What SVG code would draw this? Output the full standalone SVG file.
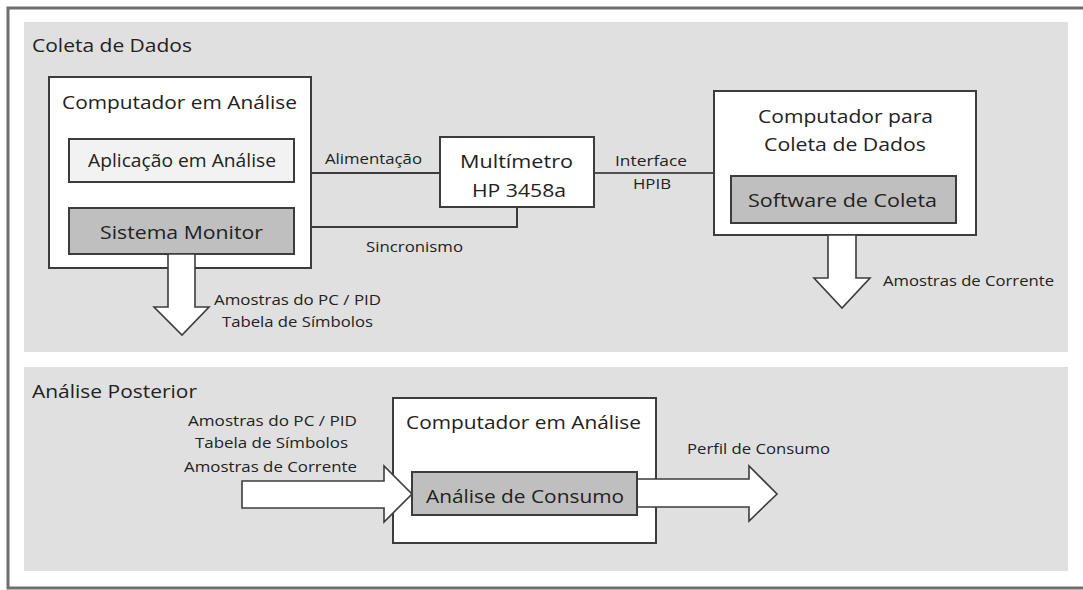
<svg xmlns="http://www.w3.org/2000/svg" width="1083" height="590" viewBox="0 0 1083 590">
  <style>
    .frame { fill: none; stroke: #6e6e6e; stroke-width: 3; }
    .panel { fill: #e0e0e0; }
    .box { fill: #ffffff; stroke: #3c3c3c; stroke-width: 2; }
    .light { fill: #f2f2f2; stroke: #3c3c3c; stroke-width: 2; }
    .dark { fill: #bfbfbf; stroke: #3c3c3c; stroke-width: 2; }
    .wire { fill: none; stroke: #3c3c3c; stroke-width: 2; }
    .thin { fill: none; stroke: #222222; stroke-width: 1.3; }
    .flow { fill: #ffffff; stroke: #3c3c3c; stroke-width: 1.6; stroke-linejoin: miter; }
    text { font-family: "Open Sans", "Noto Sans", "DejaVu Sans", sans-serif; fill: #222222; }
    .big { font-size: 18px; }
    .mid { font-size: 19px; }
    .small { font-size: 14px; }
  </style>

  <!-- outer frame: top, left and bottom edges -->
  <path class="frame" d="M1083,8 H8 V588 H1083"/>

  <!-- section panels -->
  <rect class="panel" x="24" y="22" width="1044" height="330"/>
  <rect class="panel" x="24" y="367" width="1044" height="204"/>
  <text class="big" x="32" y="52" textLength="160" lengthAdjust="spacingAndGlyphs">Coleta de Dados</text>
  <text class="big" x="32" y="398" textLength="165" lengthAdjust="spacingAndGlyphs">Análise Posterior</text>

  <!-- wiring between the machines -->
  <g id="connectors">
    <line class="wire" x1="311" y1="173" x2="440" y2="173"/>
    <polyline class="wire" points="311,227 517,227 517,207"/>
    <line class="thin" x1="594" y1="173" x2="714" y2="173"/>
    <text class="small" x="325" y="164" textLength="97" lengthAdjust="spacingAndGlyphs">Alimentação</text>
    <text class="small" x="366" y="252" textLength="97" lengthAdjust="spacingAndGlyphs">Sincronismo</text>
    <text class="small" x="615" y="166" textLength="72" lengthAdjust="spacingAndGlyphs">Interface</text>
    <text class="small" x="633" y="189" textLength="38" lengthAdjust="spacingAndGlyphs">HPIB</text>
  </g>

  <!-- machine under analysis (collection stage) -->
  <g id="computador-analise">
    <rect class="box" x="49" y="77" width="262" height="191"/>
    <text class="big" x="62" y="109" textLength="235" lengthAdjust="spacingAndGlyphs">Computador em Análise</text>
  </g>
  <g id="aplicacao">
    <rect class="light" x="69" y="139" width="225" height="43"/>
    <text class="big" x="88" y="167" textLength="188" lengthAdjust="spacingAndGlyphs">Aplicação em Análise</text>
  </g>
  <g id="sistema-monitor">
    <rect class="dark" x="69" y="208" width="225" height="46"/>
    <text class="big" x="100" y="239" textLength="163" lengthAdjust="spacingAndGlyphs">Sistema Monitor</text>
  </g>

  <!-- multimeter -->
  <g id="multimetro">
    <rect class="box" x="440" y="137" width="154" height="70"/>
    <text class="mid" x="460" y="168" textLength="113" lengthAdjust="spacingAndGlyphs">Multímetro</text>
    <text class="mid" x="472" y="197" textLength="94" lengthAdjust="spacingAndGlyphs">HP 3458a</text>
  </g>

  <!-- data collection machine -->
  <g id="computador-coleta">
    <rect class="box" x="714" y="91" width="262" height="144"/>
    <text class="big" x="758" y="123" textLength="175" lengthAdjust="spacingAndGlyphs">Computador para</text>
    <text class="big" x="764" y="151" textLength="162" lengthAdjust="spacingAndGlyphs">Coleta de Dados</text>
  </g>
  <g id="software-coleta">
    <rect class="dark" x="731" y="176" width="225" height="47"/>
    <text class="big" x="748" y="207" textLength="189" lengthAdjust="spacingAndGlyphs">Software de Coleta</text>
  </g>

  <!-- sample outputs of the collection stage -->
  <g id="saida-monitor">
    <polygon class="flow" points="168,254 195,254 195,307 209,307 182,335 154,307 168,307"/>
    <text class="small" x="214" y="305" textLength="167" lengthAdjust="spacingAndGlyphs">Amostras do PC / PID</text>
    <text class="small" x="222" y="327" textLength="151" lengthAdjust="spacingAndGlyphs">Tabela de Símbolos</text>
  </g>
  <g id="saida-coleta">
    <polygon class="flow" points="828,235 856,235 856,278 870,278 842,308 814,278 828,278"/>
    <text class="small" x="883" y="286" textLength="171" lengthAdjust="spacingAndGlyphs">Amostras de Corrente</text>
  </g>

  <!-- later analysis stage -->
  <g id="computador-posterior">
    <rect class="box" x="393" y="398" width="263" height="145"/>
    <text class="big" x="406" y="429" textLength="235" lengthAdjust="spacingAndGlyphs">Computador em Análise</text>
  </g>
  <g id="entrada-analise">
    <polygon class="flow" points="242,481 384,481 384,466 412,494 384,522 384,508 242,508"/>
    <text class="small" x="188" y="426" textLength="169" lengthAdjust="spacingAndGlyphs">Amostras do PC / PID</text>
    <text class="small" x="195" y="448" textLength="153" lengthAdjust="spacingAndGlyphs">Tabela de Símbolos</text>
    <text class="small" x="184" y="472" textLength="173" lengthAdjust="spacingAndGlyphs">Amostras de Corrente</text>
  </g>
  <g id="saida-perfil">
    <polygon class="flow" points="637,479 749,479 749,466 777,494 749,521 749,507 637,507"/>
    <text class="small" x="687" y="454" textLength="143" lengthAdjust="spacingAndGlyphs">Perfil de Consumo</text>
  </g>
  <g id="analise-consumo">
    <rect class="dark" x="412" y="472" width="225" height="43"/>
    <text class="big" x="426" y="503" textLength="198" lengthAdjust="spacingAndGlyphs">Análise de Consumo</text>
  </g>
</svg>
